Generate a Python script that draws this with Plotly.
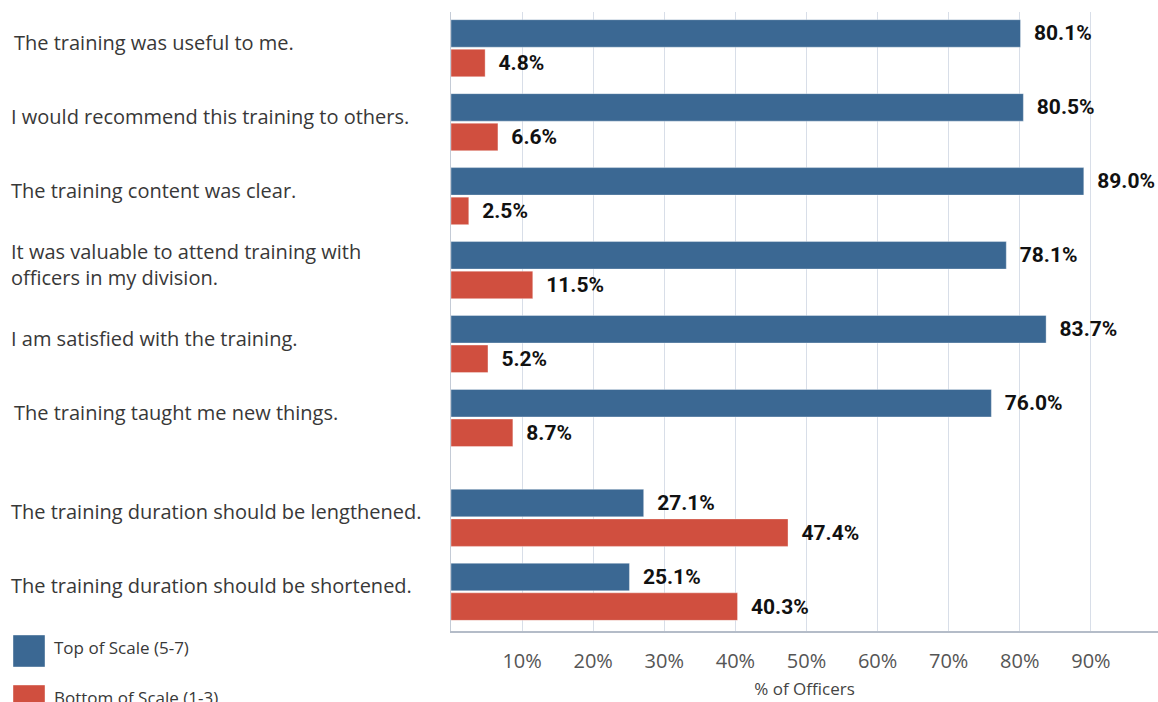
import plotly.graph_objects as go

# ---------------- data ----------------
statements = [
    "The training was useful to me.",
    "I would recommend this training to others.",
    "The training content was clear.",
    "It was valuable to attend training with<br>officers in my division.",
    "I am satisfied with the training.",
    "The training taught me new things.",
    "The training duration should be lengthened.",
    "The training duration should be shortened.",
]
series_names = ["Top of Scale (5-7)", "Bottom of Scale (1-3)"]
top_scale = [80.1, 80.5, 89.0, 78.1, 83.7, 76.0, 27.1, 25.1]
bottom_scale = [4.8, 6.6, 2.5, 11.5, 5.2, 8.7, 47.4, 40.3]
tick_vals = [10, 20, 30, 40, 50, 60, 70, 80, 90]
tick_labels = ["10%", "20%", "30%", "40%", "50%", "60%", "70%", "80%", "90%"]
axis_title = "% of Officers"

# ---------------- layout constants ----------------
W, H = 1158, 702
PLOT_L, PLOT_R, PLOT_T, PLOT_B = 451, 1158, 12, 631   # screen px
ML, MR, MT, MB = PLOT_L, W - PLOT_R, PLOT_T, H - PLOT_B
PW, PH = W - ML - MR, H - MT - MB
row_pos = [0, 1, 2, 3, 4, 5, 6.35, 7.35]   # row slots (gap before last two)
label_left = [12, 9, 9, 9, 9, 12, 9, 9]     # left edge of statement text (px)
BLUE = "#3b6893"
RED = "#d04f3f"
LABEL_FONT = "Open Sans, Noto Sans, sans-serif"
VALUE_FONT = "Roboto, Open Sans, sans-serif"


def px_x(sx):
    """screen x pixel -> paper x"""
    return (sx - ML) / PW


def px_y(sy):
    """screen y pixel -> paper y"""
    return (H - MB - sy) / PH


fig = go.Figure()
for name, vals, col in [(series_names[0], top_scale, BLUE),
                        (series_names[1], bottom_scale, RED)]:
    fig.add_trace(go.Bar(
        y=row_pos, x=vals, orientation="h", name=name,
        marker=dict(color=col, line=dict(color="rgba(255,255,255,0.35)", width=1)),
        text=["  " + f"{v:.1f}%" for v in vals],
        textposition="outside",
        constraintext="none",
        cliponaxis=False,
        textfont=dict(family=VALUE_FONT, size=21, color="#111111", weight="bold"),
        showlegend=False,
        hoverinfo="x+name",
    ))

annotations = []
for pos, s, lx in zip(row_pos, statements, label_left):
    annotations.append(dict(
        xref="paper", yref="y", x=px_x(lx), y=pos, yshift=6,
        text=s, showarrow=False, xanchor="left", yanchor="middle", align="left",
        font=dict(family=LABEL_FONT, size=20, color="#383838"),
    ))

# manual legend with large swatches
shapes = []
leg_tops = [635, 685]
for name, col, top in zip(series_names, [BLUE, RED], leg_tops):
    shapes.append(dict(
        type="rect", xref="paper", yref="paper",
        x0=px_x(13), x1=px_x(45), y0=px_y(top + 32), y1=px_y(top),
        fillcolor=col, line=dict(color="rgba(255,255,255,0.4)", width=1),
    ))
    annotations.append(dict(
        xref="paper", yref="paper", x=px_x(52), y=px_y(top + 12),
        text=name, showarrow=False, xanchor="left", yanchor="middle",
        font=dict(family=LABEL_FONT, size=17, color="#383838"),
    ))

fig.update_layout(
    width=W, height=H,
    margin=dict(l=ML, r=MR, t=MT, b=MB, autoexpand=False),
    paper_bgcolor="white", plot_bgcolor="white",
    barmode="group", bargap=0.2, bargroupgap=0.07,
    annotations=annotations, shapes=shapes,
    showlegend=False,
    xaxis=dict(
        range=[0, PW / 7.11], tickvals=tick_vals, ticktext=tick_labels,
        showgrid=True, gridcolor="#d8dee8", gridwidth=1,
        showline=True, linecolor="#b4bcc8", linewidth=1.5,
        zeroline=False, ticks="", ticklabelstandoff=11,
        tickfont=dict(family=LABEL_FONT, size=20, color="#555555"),
        title=dict(text=axis_title, standoff=10,
                   font=dict(family=LABEL_FONT, size=17, color="#444444")),
        fixedrange=True,
    ),
    yaxis=dict(
        range=[7.88, -0.49], showticklabels=False, showgrid=False,
        zeroline=False, showline=True, linecolor="#c4cbd6", linewidth=1,
        fixedrange=True,
    ),
)

fig.write_html(
    "out.html",
    config={"displayModeBar": False},
    post_script="document.body.style.margin='0px';"
                "document.body.style.overflow='hidden';"
                "document.documentElement.style.overflow='hidden';",
)
